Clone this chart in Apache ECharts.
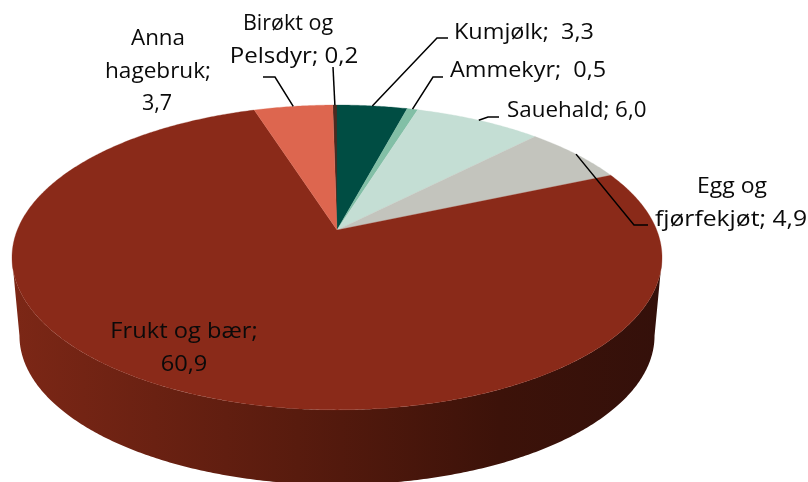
<!DOCTYPE html>
<html><head><meta charset="utf-8">
<style>html,body{margin:0;padding:0;background:#fff}#c{width:808px;height:482px}</style>
<script src="https://cdn.jsdelivr.net/npm/echarts@6/dist/echarts.min.js"></script>
</head><body><div id="c"></div>
<script>
// Data, clockwise from the top
const categories = ['Birøkt og Pelsdyr', 'Kumjølk', 'Ammekyr', 'Sauehald', 'Egg og fjørfekjøt', 'Frukt og bær', 'Anna hagebruk'];
const values = [0.2, 3.3, 0.5, 6.0, 4.9, 60.9, 3.7];
const sliceColors = ['#4a2a20', '#004d43', '#82bfa6', '#c4ded4', '#c3c4bd', '#8a2a19', '#dd664f'];
const labelLines = [
  ['Birøkt og', 'Pelsdyr; {v}'], ['Kumjølk;  {v}'], ['Ammekyr;  {v}'], ['Sauehald; {v}'],
  ['Egg og', 'fjørfekjøt; {v}'], ['Frukt og bær;', '{v}'], ['Anna', 'hagebruk;', '{v}']
];

// Layout of the perspective pie
const cx = 337, cy = 230, A = 147.5, B = 319.7, K = 0.18;
const startDeg = -0.9, depth = 79, baseScale = 0.977;
const total = values.reduce((a, b) => a + b, 0);
const starts = []; { let c = startDeg; values.forEach(v => { starts.push(c); c += v / total * 360; }); }
function rim(deg) {
  const t = deg * Math.PI / 180, u = Math.sin(t), v = -Math.cos(t), d = 1 - K * v;
  return [cx + B * u / d, cy + A * v / d];
}
function base(p) { return [cx + (p[0] - cx) * baseScale, cy + (p[1] - cy) * baseScale + depth]; }
function arc(a0, a1) {
  const n = Math.max(2, Math.ceil((a1 - a0) / 0.5)), pts = [];
  for (let i = 0; i <= n; i++) pts.push(rim(a0 + (a1 - a0) * i / n));
  return pts;
}
// The wall is only visible between the two points where the rim turns back
const frontFrom = Math.acos(-K) * 180 / Math.PI, frontTo = 360 - frontFrom;
const wallFill = { type: 'linear', x: 12, y: 0, x2: 662, y2: 0, global: true, colorStops: [
  { offset: 0, color: '#7c2716' }, { offset: 0.44, color: '#581b0e' },
  { offset: 0.75, color: '#3c1209' }, { offset: 1, color: '#34100a' } ] };

// Label placement: text anchor, alignment, per-line x shift and stretch, leader elbow points
const labelPlace = [
  { x: 294, y: 24, align: 'center', dx: [-6, 0], sx: [1.0, 1.12], leader: [[333, 67]] },
  { x: 454, y: 33, align: 'left', dx: [0], sx: [1.09], leader: [[448, 38], [437, 38]] },
  { x: 450, y: 71, align: 'left', dx: [0], sx: [1.09], leader: [[443, 77], [433, 77]] },
  { x: 507, y: 111, align: 'left', dx: [0], sx: [1.04], leader: [[499, 117], [488, 117]] },
  { x: 731, y: 187, align: 'center', dx: [1, 0], sx: [1.07, 1.15], leader: [[648, 225], [634, 225]] },
  { x: 184, y: 332, align: 'center', dx: [0, 0], sx: [1.1, 1.1], leader: null },
  { x: 157, y: 39, align: 'center', dx: [1, 1, 0], sx: [1.04, 1.05, 1.0], leader: [[263, 77], [275, 77]] }
];
const lineGap = 32.5;
const fmt = v => v.toFixed(1).replace('.', ',');

function extent(params, api) {
  const v = api.value(0), a0 = starts[params.dataIndex];
  return [a0, a0 + v / total * 360];
}
const wallSeries = {
  type: 'custom', coordinateSystem: 'none', z: 1, silent: true, data: values.map(v => [v]),
  renderItem(params, api) {
    const [a0, a1] = extent(params, api), f = Math.max(a0, frontFrom), g = Math.min(a1, frontTo);
    if (g <= f) return null;
    const top = arc(f, g);
    return { type: 'polygon', shape: { points: top.concat(top.map(base).reverse()) }, style: { fill: wallFill } };
  }
};
const topSeries = {
  type: 'custom', coordinateSystem: 'none', z: 2, silent: true, data: values.map(v => [v]),
  renderItem(params, api) {
    const [a0, a1] = extent(params, api), c = sliceColors[params.dataIndex];
    return { type: 'polygon', shape: { points: [[cx, cy]].concat(arc(a0, a1)) }, style: { fill: c, stroke: c, lineWidth: 0.3 } };
  }
};
const labelSeries = {
  type: 'custom', coordinateSystem: 'none', z: 3, silent: true, data: values.map(v => [v]),
  renderItem(params, api) {
    const i = params.dataIndex, [a0, a1] = extent(params, api), p = labelPlace[i], kids = [];
    if (p.leader) kids.push({ type: 'polyline',
      shape: { points: p.leader.concat([rim((a0 + a1) / 2)]) },
      style: { fill: null, stroke: '#000', lineWidth: 1.5 } });
    labelLines[i].forEach((s, n) => kids.push({ type: 'text', x: p.x + p.dx[n], y: p.y + n * lineGap, scaleX: p.sx[n],
      style: { text: s.replace('{v}', fmt(api.value(0))), x: 0, y: 0, align: p.align, verticalAlign: 'middle',
        fill: '#0a0a0a', font: '21.5px "Open Sans"' } }));
    return { type: 'group', children: kids };
  }
};
const chart = echarts.init(document.getElementById('c'), null, { renderer: 'canvas' });
chart.setOption({ animation: false, backgroundColor: '#fff', series: [wallSeries, topSeries, labelSeries] });
</script></body></html>
